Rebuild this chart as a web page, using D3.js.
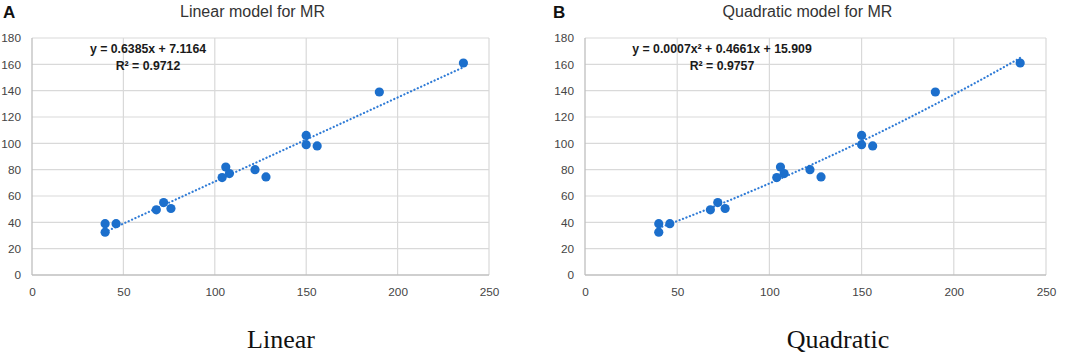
<!DOCTYPE html>
<html>
<head>
<script src="https://d3js.org/d3.v7.min.js"></script>
<style>
  body { margin: 0; background: #fff; }
  svg { display: block; }
  .tick text { font-family: "Liberation Sans", Arial, sans-serif; font-size: 11.8px; fill: #454545; }
</style>
</head>
<body>
<svg id="chart" width="1072" height="355"></svg>
<script>
const xValues = [40, 40, 46, 68, 72, 76, 104, 106, 108, 122, 128, 150, 150, 156, 190, 236];
const yValues = [39, 32.5, 39, 49.5, 55, 50.5, 74, 82, 77, 80, 74.5, 106, 99, 98, 139, 161];
const xTicks = [0, 50, 100, 150, 200, 250];
const yTicks = [0, 20, 40, 60, 80, 100, 120, 140, 160, 180];

// trendline coefficients as printed on the chart: [c2, c1, c0]
const linearCoef = [0, 0.6385, 7.1164];
const quadCoef = [0.0007, 0.4661, 15.909];

const panels = [
  { letter: "A", title: "Linear model for MR", eq: "y = 0.6385x + 7.1164", r2: "0.9712",
    coef: linearCoef, caption: "Linear", left: 32, right: 489, captionX: 281, eqX: 148 },
  { letter: "B", title: "Quadratic model for MR", eq: "y = 0.0007x\u00b2 + 0.4661x + 15.909", r2: "0.9757",
    coef: quadCoef, caption: "Quadratic", left: 585, right: 1046, captionX: 838, eqX: 722 }
];

const svg = d3.select("#chart");
const plotTop = 38, plotBottom = 275;
const pointColor = "#1c6fcc";
const points = xValues.map((x, i) => ({ x: x, y: yValues[i] }));

panels.forEach((p, idx) => {
  const x = d3.scaleLinear().domain([0, 250]).range([p.left, p.right]);
  const y = d3.scaleLinear().domain([0, 180]).range([plotBottom, plotTop]);
  const g = svg.append("g");

  // grid
  g.append("g").selectAll("line").data(yTicks.slice(1)).join("line")
    .attr("x1", p.left).attr("x2", p.right)
    .attr("y1", d => y(d)).attr("y2", d => y(d))
    .attr("stroke", "#d9d9d9").attr("stroke-width", 1.2);
  g.append("g").selectAll("line").data(xTicks.slice(1)).join("line")
    .attr("y1", plotTop).attr("y2", plotBottom)
    .attr("x1", d => x(d)).attr("x2", d => x(d))
    .attr("stroke", "#d9d9d9").attr("stroke-width", 1.2);
  // axis lines
  g.append("line").attr("x1", p.left).attr("x2", p.right).attr("y1", plotBottom).attr("y2", plotBottom)
    .attr("stroke", "#bfbfbf").attr("stroke-width", 1.3);
  g.append("line").attr("x1", p.left).attr("x2", p.left).attr("y1", plotTop).attr("y2", plotBottom)
    .attr("stroke", "#bfbfbf").attr("stroke-width", 1.3);

  const xAxis = g.append("g").attr("transform", `translate(0,${plotBottom + 13})`)
    .call(d3.axisBottom(x).tickValues(xTicks).tickSize(0).tickPadding(0));
  xAxis.select(".domain").remove();
  xAxis.selectAll("text").attr("dy", "0.71em");

  const yAxis = g.append("g").attr("transform", `translate(${p.left - 11},0)`)
    .call(d3.axisLeft(y).tickValues(yTicks).tickSize(0).tickPadding(0));
  yAxis.select(".domain").remove();

  // trendline from the printed equation
  const xs = d3.extent(xValues);
  const c = p.coef;
  const curve = d3.range(xs[0], xs[1] + 0.5, 2).map(v => [v, c[0] * v * v + c[1] * v + c[2]]);
  g.append("path").datum(curve)
    .attr("fill", "none").attr("stroke", "#2f7bd6").attr("stroke-width", 2.2)
    .attr("stroke-dasharray", "0.1,3.6").attr("stroke-linecap", "round")
    .attr("d", d3.line().x(d => x(d[0])).y(d => y(d[1])));

  // points
  g.append("g").selectAll("circle").data(points).join("circle")
    .attr("cx", d => x(d.x)).attr("cy", d => y(d.y)).attr("r", 4.6)
    .attr("fill", pointColor);

  // equation
  g.append("text").attr("x", p.eqX).attr("y", 53).attr("text-anchor", "middle")
    .attr("font-family", "Liberation Sans, Arial, sans-serif").attr("font-weight", "bold")
    .attr("font-size", 12.3).attr("fill", "#1a1a1a").text(p.eq);
  g.append("text").attr("x", p.eqX).attr("y", 70).attr("text-anchor", "middle")
    .attr("font-family", "Liberation Sans, Arial, sans-serif").attr("font-weight", "bold")
    .attr("font-size", 12.3).attr("fill", "#1a1a1a").text("R\u00b2 = " + p.r2);

  // title
  g.append("text").attr("x", (p.left + p.right) / 2 - 8).attr("y", 17).attr("text-anchor", "middle")
    .attr("font-family", "Liberation Sans, Arial, sans-serif").attr("font-size", 16)
    .attr("fill", "#333").text(p.title);

  // panel letter
  g.append("text").attr("x", idx === 0 ? 3 : 553).attr("y", 18)
    .attr("font-family", "Liberation Sans, Arial, sans-serif").attr("font-weight", "bold")
    .attr("font-size", 17).attr("fill", "#111").text(p.letter);

  // caption
  g.append("text").attr("x", p.captionX).attr("y", 348).attr("text-anchor", "middle")
    .attr("font-family", "Liberation Serif, Times New Roman, serif").attr("font-size", 26)
    .attr("fill", "#111").text(p.caption);
});
</script>
</body>
</html>
